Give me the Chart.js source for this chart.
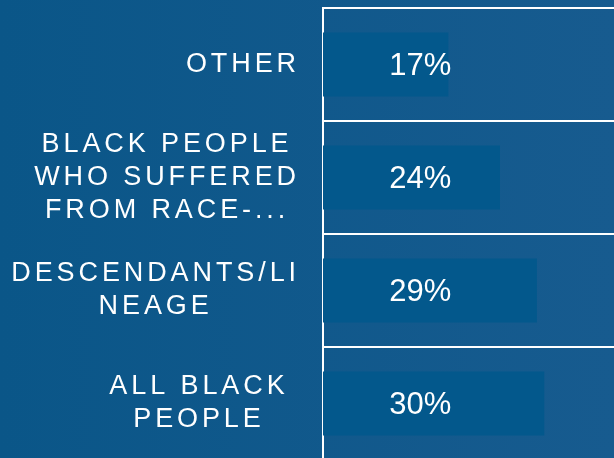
<!DOCTYPE html>
<html>
<head>
<meta charset="utf-8">
<script src="https://cdn.jsdelivr.net/npm/chart.js@4.4.0/dist/chart.umd.min.js"></script>
<style>
  html, body { margin: 0; padding: 0; overflow: hidden; }
  body { width: 614px; height: 458px; background: linear-gradient(to right, #0a5688, #175b8f); }
  canvas { display: block; }
</style>
</head>
<body>
<canvas id="myChart" width="618" height="460"></canvas>
<script>
// categories (already wrapped the way the picture shows them)
const categories = [
  ["OTHER"],
  ["BLACK PEOPLE", "WHO SUFFERED", "FROM RACE-..."],
  ["DESCENDANTS/LI", "NEAGE"],
  ["ALL BLACK ", "PEOPLE"]
];
const values = [17, 24, 29, 30];
const valueLabels = ["17%", "24%", "29%", "30%"];
const xMin = 0;
const xMax = 40;

const labelFont = "'Liberation Sans', Arial, sans-serif";

// draws the wrapped category text and the % labels
const labelPlugin = {
  id: "labelPlugin",
  afterDatasetsDraw(chart) {
    const ctx = chart.ctx;
    const yScale = chart.scales.y;
    const xScale = chart.scales.x;
    ctx.save();
    ctx.fillStyle = "#ffffff";
    ctx.textBaseline = "middle";

    ctx.font = "27px " + labelFont;
    ctx.letterSpacing = "3.9px";
    const lineHeight = 33;
    const rightEdge = yScale.right - 25;
    categories.forEach((lines, i) => {
      const yMid = yScale.getPixelForTick(i);
      let widest = 0;
      lines.forEach((l, j) => {
        if (ctx.measureText(l).width > ctx.measureText(lines[widest]).width) widest = j;
      });
      const rawW = ctx.measureText(lines[widest]).width;
      const trimW = ctx.measureText(lines[widest].trim()).width;
      const cx = rightEdge - rawW + trimW / 2;
      ctx.textAlign = "center";
      lines.forEach((l, j) => {
        const y = yMid + (j - (lines.length - 1) / 2) * lineHeight;
        ctx.fillText(l.trim(), cx + 1.95, y);
      });
    });

    ctx.letterSpacing = "0px";
    ctx.font = "31px " + labelFont;
    ctx.textAlign = "center";
    const meta = chart.getDatasetMeta(0);
    meta.data.forEach((bar, i) => {
      ctx.fillText(valueLabels[i], xScale.getPixelForValue(13.2), bar.y + 2);
    });
    ctx.restore();
  }
};

const myChart = new Chart("myChart", {
  type: "bar",
  data: {
    labels: categories,
    datasets: [
      {
        data: values,
        backgroundColor: "#03588c",
        borderWidth: 0,
        barPercentage: 0.566,
        categoryPercentage: 1
      }
    ]
  },
  options: {
    indexAxis: "y",
    responsive: false,
    animation: false,
    layout: { padding: { top: 8, left: 0, right: 0, bottom: 0 } },
    plugins: {
      legend: { display: false },
      tooltip: { enabled: false }
    },
    scales: {
      x: { display: false, min: xMin, max: xMax },
      y: {
        afterFit(scale) { scale.width = 323; },
        ticks: { display: false },
        grid: { color: "#ffffff", lineWidth: 2, drawTicks: false, offset: true },
        border: { color: "#ffffff", width: 2 }
      }
    }
  },
  plugins: [labelPlugin]
});
</script>
</body>
</html>
